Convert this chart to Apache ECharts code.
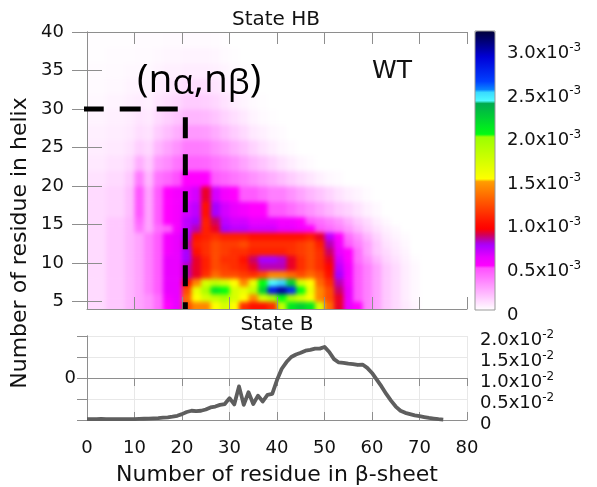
<!DOCTYPE html>
<html><head><meta charset="utf-8">
<script src="https://cdn.jsdelivr.net/npm/echarts@6/dist/echarts.min.js"></script>
<style>
html,body{margin:0;padding:0;background:#fff}
#wrap{position:relative;width:597px;height:487px}
#heatClip{position:absolute;left:87px;top:32px;width:380px;height:277px;overflow:hidden}
#heat{position:absolute;left:-87px;top:-32px;width:597px;height:487px;filter:blur(2px)}
#c{position:absolute;left:0;top:0;width:597px;height:487px}
</style>
</head><body><div id="wrap"><div id="heatClip"><div id="heat"></div></div><div id="c"></div></div>
<script>
// ---------- DATA ----------
// heat map cell edges (x: residues in beta-sheet, y: residues in helix)
const heatX = [0,2,4,6,8,10,12,14,16,18,20,22,24,26,28,30,32,34,36,38,40,42,44,46,48,50,52,54,56,58,60,62,64,66,68,70,72,74,76,78,80];
const heatY = [4,5,6,7,8,9,10,11,12,13,14,15,16,18,20,22,24,26,28,30,32,34,36,38,40];
// probability, units of 1e-4, one row per y band (bottom to top), one value per x cell
const heatRows = [
 [1,1,1.5,1.5,2,2.5,3,4,5,6, 12,14,14,15,17,15,11,10,10,11, 18,21,22,21,17,13,9,6,5,3.5, 2.5,1.5,1,0.6,0.3,0,0,0,0,0],
 [1,1,1.5,1.5,2,2.5,3,4,5.5,6, 13,15,17,18,19,17,15,14,17,19, 20,19,17,15,14,12,9,6,4.5,3.5, 2.5,1.5,1,0.5,0.2,0,0,0,0,0],
 [1,1,1.5,1.5,2,2.5,3.5,4.5,6,6, 12,16,19,21,20,17,16,18,22,28, 30,27,20,16,14,12,8.5,6,4.5,3.5, 2.5,1.5,1,0.5,0.2,0,0,0,0,0],
 [1,1,1.5,1.5,2,2.5,3.5,4.5,6,6, 10,14,17,18,17,15,14,16,20,24, 25,22,17,15,13,11,8,5.5,4.5,3.5, 2.5,1.5,1,0.5,0.2,0,0,0,0,0],
 [1,1,1.5,1.5,2,2.5,3.5,4.5,6,6, 8,9,11,13,12,12,11.5,11,12,14, 14,13,12,13,12,10,7.5,5.5,4.5,3.5, 2.5,1.5,1,0.5,0.2,0,0,0,0,0],
 [1,1,1.5,1.5,2,2.5,3.5,4.5,6,6, 8,9,10.5,12,11.5,11,10.5,9,8,8, 8,9,11,12,11,9.5,7,5.5,4.5,3.5, 2.5,1.5,1,0.5,0.2,0,0,0,0,0],
 [1,1,1.5,1.5,2,2.5,3.5,4.5,6,6, 7.5,9,10.5,12,11,11,10,8.5,7.5,7.5, 7.8,9,11,12,11,9,6.5,5,4,3, 2,1.2,0.8,0.4,0.1,0,0,0,0,0],
 [1,1,1.5,1.5,2,2.5,3.5,4.5,5.5,6, 7.5,10,11,12,11.5,11,11,10.5,10.5,10.5, 10.5,11,11.5,12,11,8.5,6,5,4,2.5, 1.5,1,0.6,0.3,0,0,0,0,0,0],
 [1,1,1.5,1.5,2,2.5,3.5,4.5,5.5,6, 8,10.5,11,12,11.5,11.5,12,11,11,11, 11,11,11.5,12,10.5,8,5.5,4.5,3.5,2.5, 1.5,0.8,0.5,0.2,0,0,0,0,0,0],
 [1,1,1.5,1.5,2,2.5,3.5,4.5,5.5,6, 7.5,10,10.5,11,10.5,10.5,10.5,10,10,10, 10,10,10,10.5,9,7,5,4,3,2, 1.2,0.6,0.3,0.1,0,0,0,0,0,0],
 [1,1,1.5,1.5,2,3.8,2.5,4,4.5,5.5, 7,8,10.5,9,7.5,7,7,6.5,6.5,6.5, 6,6,5.5,5,4.5,4,3.5,2.8,2,1.3, 0.8,0.4,0.2,0,0,0,0,0,0,0],
 [1,1,1.5,1.5,2,4.2,2.5,4.5,5,5.5, 7,7.5,10.5,8.5,7,6.5,6.5,6,6,6, 5.5,5.5,5,4.5,4,3.5,3,2.2,1.5,1, 0.5,0.2,0,0,0,0,0,0,0,0],
 [1,1,1.2,1.2,1.8,4.6,2.5,4.5,5,5.5, 6.5,7,10,7.5,6.5,6,5.5,5,5,4.5, 4.5,4,3.5,3,2.5,2,1.5,1.2,0.8,0.4, 0.2,0,0,0,0,0,0,0,0,0],
 [1,1,1.2,1.2,1.8,4.6,2.5,4.5,5,5.5, 6,6.5,9,6.5,5.5,5,4.5,4.5,4,3.5, 3.5,3,2.5,2,1.6,1.2,0.8,0.5,0.3,0.1, 0,0,0,0,0,0,0,0,0,0],
 [0.8,0.8,1,1,1.5,3.6,2,3.8,4.2,4.8, 5,5,5,4.5,4.2,3.8,3.4,3,2.6,2.2, 1.8,1.4,1,0.7,0.4,0.2,0.1,0,0,0, 0,0,0,0,0,0,0,0,0,0],
 [0.6,0.6,0.8,0.8,1.1,2.2,1.5,2.8,3.2,3.8, 4.3,4.3,4.2,3.8,3.4,3,2.5,2,1.6,1.2, 0.8,0.5,0.25,0.1,0,0,0,0,0,0, 0,0,0,0,0,0,0,0,0,0],
 [0.5,0.5,0.6,0.6,0.8,1.3,1.1,2,2.5,3, 3.6,3.6,3.5,3,2.6,2.1,1.7,1.2,0.8,0.5, 0.25,0.1,0,0,0,0,0,0,0,0, 0,0,0,0,0,0,0,0,0,0],
 [0.4,0.4,0.5,0.5,0.6,0.9,0.8,1.4,1.8,2.2, 2.8,2.8,2.7,2.3,1.8,1.4,1,0.6,0.4,0.2, 0.1,0,0,0,0,0,0,0,0,0, 0,0,0,0,0,0,0,0,0,0],
 [0.3,0.3,0.4,0.4,0.5,0.7,0.6,1,1.3,1.6, 2,2,1.9,1.6,1.2,0.9,0.6,0.3,0.15,0.05, 0,0,0,0,0,0,0,0,0,0, 0,0,0,0,0,0,0,0,0,0],
 [0.2,0.2,0.3,0.3,0.4,0.5,0.4,0.7,0.9,1.1, 1.4,1.4,1.3,1.1,0.8,0.5,0.3,0.15,0.05,0, 0,0,0,0,0,0,0,0,0,0, 0,0,0,0,0,0,0,0,0,0],
 [0.15,0.15,0.2,0.2,0.3,0.3,0.3,0.5,0.6,0.7, 0.9,0.9,0.9,0.7,0.5,0.3,0.15,0.05,0,0, 0,0,0,0,0,0,0,0,0,0, 0,0,0,0,0,0,0,0,0,0],
 [0.1,0.1,0.15,0.15,0.2,0.2,0.2,0.3,0.4,0.4, 0.5,0.5,0.5,0.4,0.3,0.15,0.05,0,0,0, 0,0,0,0,0,0,0,0,0,0, 0,0,0,0,0,0,0,0,0,0],
 [0.05,0.05,0.1,0.1,0.1,0.15,0.15,0.2,0.25,0.25, 0.3,0.3,0.3,0.25,0.15,0.05,0,0,0,0, 0,0,0,0,0,0,0,0,0,0, 0,0,0,0,0,0,0,0,0,0],
 [0.05,0.05,0.05,0.05,0.05,0.1,0.1,0.1,0.15,0.15, 0.15,0.15,0.15,0.1,0.05,0,0,0,0,0, 0,0,0,0,0,0,0,0,0,0, 0,0,0,0,0,0,0,0,0,0]
];
// State B distribution (units of 1e-2)
const stateBX = [0,1,2,3,4,5,6,7,8,9,10,11,12,13,14,15,16,17,18,19,20,21,22,23,24,25,26,27,28,29,30,31,32,33,34,35,36,37,38,39,40,41,42,43,44,45,46,47,48,49,50,51,52,53,54,55,56,57,58,59,60,61,62,63,64,65,66,67,68,69,70,71,72,73,74,75];
const stateBY = [0.02,0.02,0.02,0.025,0.02,0.02,0.02,0.02,0.02,0.02,0.02,0.025,0.03,0.035,0.04,0.045,0.055,0.065,0.08,0.1,0.14,0.19,0.22,0.21,0.22,0.25,0.3,0.32,0.36,0.38,0.52,0.37,0.8,0.36,0.66,0.38,0.58,0.44,0.6,0.62,0.95,1.22,1.38,1.5,1.56,1.6,1.65,1.67,1.7,1.7,1.74,1.62,1.45,1.37,1.36,1.34,1.33,1.31,1.32,1.24,1.12,0.96,0.8,0.62,0.46,0.32,0.22,0.17,0.14,0.11,0.09,0.07,0.05,0.035,0.02,0.01];
// tick values
const heatYTicks = [5,10,15,20,25,30,35,40];
const cbTicks = [0,0.5,1.0,1.5,2.0,2.5,3.0];       // colour bar, units of 1e-3
const refPoint = [20.7, 30];                       // (n_beta, n_alpha) marker

// ---------- STYLE ----------
const FONT = 'DejaVu Sans';
const GRAY = '#8e8e8e';
const stops = [[0,'#ffffff'],[0.499,'#ff48ff'],[0.5,'#ff00ff'],[0.6,'#ea00ff'],[0.75,'#a800ff'],[0.86,'#d0005a'],[0.93,'#ff0000'],[1.0,'#ff1000'],[1.499,'#ffa400'],[1.5,'#ffff00'],[1.999,'#98ff00'],[2.0,'#00ff10'],[2.38,'#00a850'],[2.39,'#50ffff'],[2.5,'#38d8ff'],[2.51,'#0a90ff'],[2.62,'#0040ff'],[2.9,'#0000d8'],[3.2,'#000038']];
function hex(c){return [parseInt(c.slice(1,3),16),parseInt(c.slice(3,5),16),parseInt(c.slice(5,7),16)];}
function colorAt(v){
  for(let i=1;i<stops.length;i++){ if(v<=stops[i][0]){ const a=stops[i-1],b=stops[i]; const t=(v-a[0])/(b[0]-a[0]||1); const ca=hex(a[1]),cb=hex(b[1]); return 'rgb('+ca.map((x,k)=>Math.round(x+(cb[k]-x)*t)).join(',')+')'; } }
  return stops[stops.length-1][1];
}
const palette=[]; for(let i=0;i<=320;i++) palette.push(colorAt(i/100));

const heatData=[];
for(let r=0;r<heatRows.length;r++) for(let c=0;c<heatRows[r].length;c++) heatData.push([heatX[c],heatX[c+1],heatY[r],heatY[r+1],heatRows[r][c]]);

const xLo=heatX[0], xHi=heatX[heatX.length-1], yLo=heatY[0], yHi=heatY[heatY.length-1];
const GRID0 = {left:87,top:32,width:380,height:277};

// ---------- heat layer (softened by a CSS blur, like the interpolated original) ----------
const heat = echarts.init(document.getElementById('heat'));
heat.setOption({
  animation:false,
  grid:[GRID0],
  xAxis:[{type:'value',min:xLo,max:xHi,show:false}],
  yAxis:[{type:'value',min:yLo,max:yHi,show:false}],
  visualMap:{type:'continuous',show:false,min:0,max:32,dimension:4,seriesIndex:0,inRange:{color:palette}},
  series:[{type:'custom',data:heatData,clip:false,silent:true,encode:{x:[0,1],y:[2,3]},
    renderItem:(p,api)=>{
      const a=api.coord([api.value(0),api.value(3)]), b=api.coord([api.value(1),api.value(2)]);
      let x0=a[0],y0=a[1],x1=b[0]+0.6,y1=b[1]+0.6; const E=10;
      if(api.value(0)===xLo) x0-=E; if(api.value(1)===xHi) x1+=E;
      if(api.value(2)===yLo) y1+=E; if(api.value(3)===yHi) y0-=E;
      return {type:'rect',shape:{x:x0,y:y0,width:x1-x0,height:y1-y0},style:{fill:api.visual('color')}};
    }}]
});

// ---------- axes, colour bar, line plot, annotations ----------
const supRich = {m:{fontFamily:FONT,fontSize:18,color:'#111',lineHeight:24},e:{fontFamily:FONT,fontSize:12,color:'#111',lineHeight:12,verticalAlign:'top'}};
function sciFmt(exp){return v=> v===0?'{m|0}':'{m|'+v.toFixed(1)+'x10}{e|'+exp+'}';}
const chart = echarts.init(document.getElementById('c'));
const tickStyle = {color:GRAY,width:1};
chart.setOption({
  animation:false,
  grid:[
    GRID0,
    {left:87,top:336,width:380,height:91},
    {left:475,top:31,width:20,height:279,show:true,borderColor:'#999',borderWidth:1,backgroundColor:'transparent',z:10}
  ],
  xAxis:[
    {gridIndex:0,type:'value',min:0,max:80,interval:10,position:'bottom',axisLine:{lineStyle:{color:GRAY}},axisTick:{inside:true,length:12,lineStyle:tickStyle},axisLabel:{show:false},splitLine:{show:false}},
    {gridIndex:0,type:'value',min:0,max:80,interval:10,position:'top',axisLine:{lineStyle:{color:GRAY}},axisTick:{inside:true,length:12,lineStyle:tickStyle},axisLabel:{show:false},splitLine:{show:false}},
    {gridIndex:1,type:'value',min:0,max:80,interval:10,position:'bottom',axisLine:{lineStyle:{color:GRAY}},axisTick:{inside:true,length:8,lineStyle:tickStyle},
      axisLabel:{fontFamily:FONT,fontSize:18,color:'#111',margin:19},splitLine:{show:true,lineStyle:{color:'#e8e8e8'}},
      name:'Number of residue in β-sheet',nameLocation:'middle',nameGap:44,nameTextStyle:{fontFamily:FONT,fontSize:22,color:'#111'}},
    {gridIndex:1,type:'value',min:0,max:80,interval:10,position:'top',axisLine:{lineStyle:{color:GRAY}},axisTick:{inside:true,length:8,lineStyle:tickStyle},axisLabel:{show:false},splitLine:{show:false}},
    {gridIndex:2,type:'value',min:0,max:1,show:false}
  ],
  yAxis:[
    {gridIndex:0,type:'value',min:yLo,max:yHi,position:'left',axisLine:{show:true,lineStyle:{color:GRAY}},axisTick:{show:true,inside:true,length:15,lineStyle:tickStyle,customValues:heatYTicks},
      axisLabel:{fontFamily:FONT,fontSize:18,color:'#111',margin:23,customValues:heatYTicks},splitLine:{show:false}},
    {gridIndex:0,type:'value',min:yLo,max:yHi,position:'right',axisLine:{show:true,lineStyle:{color:GRAY}},axisTick:{show:true,inside:true,length:15,lineStyle:tickStyle,customValues:heatYTicks},axisLabel:{show:false},splitLine:{show:false}},
    {gridIndex:1,type:'value',min:0,max:2,interval:0.5,position:'right',axisLine:{show:true,lineStyle:{color:GRAY}},axisTick:{show:true,inside:true,length:10,lineStyle:tickStyle},
      axisLabel:{margin:13,padding:[9,0,0,0],formatter:sciFmt('-2'),rich:supRich},splitLine:{show:true,lineStyle:{color:'#e8e8e8'}}},
    {gridIndex:1,type:'value',min:-1,max:1,position:'left',axisLine:{show:true,lineStyle:{color:GRAY}},axisTick:{show:false},
      axisLabel:{fontFamily:FONT,fontSize:18,color:'#111',margin:11,customValues:[0]},splitLine:{show:false}},
    {gridIndex:2,type:'value',min:0,max:3.2,position:'right',axisLine:{show:false},axisTick:{show:false},splitLine:{show:false},
      axisLabel:{margin:12,padding:[10,0,0,0],customValues:cbTicks,formatter:sciFmt('-3'),rich:supRich}}
  ],
  visualMap:{type:'continuous',min:0,max:32,seriesIndex:[],calculable:false,hoverLink:false,
    orient:'vertical',left:475,top:31,itemWidth:20,itemHeight:279,padding:0,inRange:{color:palette}},
  series:[
    {type:'line',xAxisIndex:0,yAxisIndex:0,clip:false,symbol:'none',silent:true,z:6,
      data:[[-0.9,refPoint[1]],[refPoint[0],refPoint[1]],[refPoint[0],yLo]],lineStyle:{color:'#000',width:5,type:[21,16]}},
    {type:'line',xAxisIndex:2,yAxisIndex:2,symbol:'none',silent:true,data:stateBX.map((x,i)=>[x,stateBY[i]]),lineStyle:{color:'#5e5e5e',width:3.8,join:'round'}}
  ],
  graphic:[
    {type:'text',x:276,y:20,style:{text:'State HB',fontFamily:FONT,fontSize:20,fill:'#111',align:'center',verticalAlign:'middle'}},
    {type:'text',x:277,y:325,style:{text:'State B',fontFamily:FONT,fontSize:20,fill:'#111',align:'center',verticalAlign:'middle'}},
    {type:'text',x:392,y:71,style:{text:'WT',fontFamily:FONT,fontSize:25,fill:'#111',align:'center',verticalAlign:'middle'}},
    {type:'text',x:137,y:81,z:10,style:{text:'{p|(n}{s|α}{p|,n}{s|β}{p|)}',align:'left',verticalAlign:'middle',
      rich:{p:{fontFamily:'Open Sans',fontSize:39,lineHeight:42,fill:'#000'},s:{fontFamily:'Open Sans',fontSize:35,lineHeight:28,verticalAlign:'bottom',fill:'#000'}}}},
    {type:'text',x:20,y:243,rotation:Math.PI/2,style:{text:'Number of residue in helix',fontFamily:FONT,fontSize:22,fill:'#111',align:'center',verticalAlign:'middle'}}
  ]
});
</script></body></html>
